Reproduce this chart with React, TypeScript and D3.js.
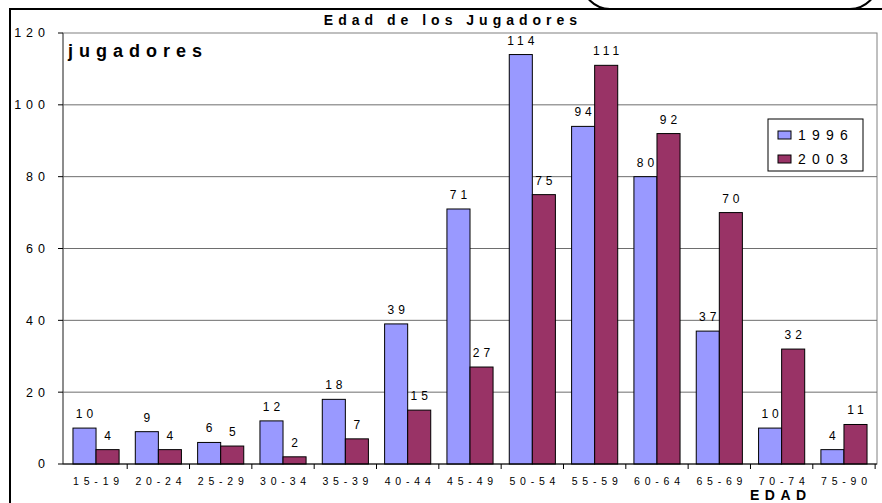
import React from "react";
import * as d3 from "d3";

const width = 882;
const height = 503;
const marginLeft = 63;
const marginRight = 5;
const marginTop = 33;
const axisY = 464;

const categories = ["15-19", "20-24", "25-29", "30-34", "35-39", "40-44", "45-49", "50-54", "55-59", "60-64", "65-69", "70-74", "75-90"];
const series = ["1996", "2003"];
const values1996 = [10, 9, 6, 12, 18, 39, 71, 114, 94, 80, 37, 10, 4];
const values2003 = [4, 4, 5, 2, 7, 15, 27, 75, 111, 92, 70, 32, 11];
const yTicks = [0, 20, 40, 60, 80, 100, 120];
const colors = ["#9999FF", "#993366"];

const font = "'Liberation Sans', Arial, sans-serif";

export default function App() {
  // 13 grupos con hueco entre grupos
  const x = d3
    .scaleBand<string>()
    .domain(categories)
    .range([marginLeft, width - marginRight])
    .paddingInner(0.26)
    .paddingOuter(0.16);
  const xInner = d3.scaleBand<string>().domain(series).range([0, x.bandwidth()]);
  const y = d3.scaleLinear().domain([0, 120]).range([axisY, marginTop]);
  const step = x.step();
  const tick0 = (x(categories[0]) ?? 0) - step * 0.13;

  const data = [values1996, values2003];

  return (
    <svg
      width={width}
      height={height}
      viewBox={`0 0 ${width} ${height}`}
      style={{ position: "absolute", left: 0, top: 0, background: "white" }}
      fontFamily={font}
    >
      <rect x={0} y={0} width={width} height={height} fill="white" />
      {/* marco exterior */}
      <rect x={10} y={9} width={920} height={540} fill="none" stroke="#000" strokeWidth={2} />
      {/* cuadro redondeado arriba a la derecha */}
      <rect x={582} y={-50} width={296} height={59} rx={28} ry={28} fill="white" stroke="#000" strokeWidth={2} />

      {/* titulo */}
      <text x={453} y={25} textAnchor="middle" fontSize={14} fontWeight="bold" letterSpacing={5}>
        Edad de los Jugadores
      </text>

      {/* area del grafico */}
      <rect
        x={marginLeft}
        y={marginTop}
        width={width - marginRight - marginLeft}
        height={axisY - marginTop}
        fill="white"
        stroke="#808080"
        strokeWidth={1}
      />

      {/* lineas de cuadricula */}
      {yTicks.slice(1, -1).map(t => (
        <line key={t} x1={marginLeft} x2={width - marginRight} y1={y(t)} y2={y(t)} stroke="#6e6e6e" strokeWidth={1} />
      ))}

      {/* eje Y */}
      <line x1={marginLeft} x2={marginLeft} y1={marginTop} y2={axisY} stroke="#5a5a5a" />
      {yTicks.map(t => (
        <g key={t}>
          <line x1={marginLeft - 5} x2={marginLeft} y1={y(t)} y2={y(t)} stroke="#000" />
          <text x={50} y={y(t)} dy="0.35em" textAnchor="end" fontSize={12.5} letterSpacing={5}>
            {t}
          </text>
        </g>
      ))}

      {/* barras */}
      {data.map((vals, si) =>
        vals.map((v, i) => {
          const bx = (x(categories[i]) ?? 0) + (xInner(series[si]) ?? 0);
          const bw = xInner.bandwidth();
          return (
            <g key={`${si}-${i}`}>
              <rect x={bx} y={y(v)} width={bw} height={axisY - y(v)} fill={colors[si]} stroke="#000" strokeWidth={1} />
              <text x={bx + bw / 2 + 2} y={y(v) - 10} textAnchor="middle" fontSize={12} letterSpacing={4}>
                {v}
              </text>
            </g>
          );
        })
      )}

      {/* eje X */}
      <line x1={marginLeft} x2={width - marginRight} y1={axisY} y2={axisY} stroke="#000" />
      {categories.map((c, i) => (
        <line
          key={c}
          x1={tick0 + step * (i + 1)}
          x2={tick0 + step * (i + 1)}
          y1={axisY}
          y2={axisY + 5}
          stroke="#000"
        />
      ))}
      {categories.map(c => (
        <text
          key={c}
          x={(x(c) ?? 0) + x.bandwidth() / 2 + 2.5}
          y={485}
          textAnchor="middle"
          fontSize={10.5}
          letterSpacing={4.8}
        >
          {c}
        </text>
      ))}

      {/* titulos de ejes */}
      <text x={68} y={57} fontSize={18} fontWeight="bold" letterSpacing={6}>
        jugadores
      </text>
      <text x={750} y={500} fontSize={14} fontWeight="bold" letterSpacing={5.5}>
        EDAD
      </text>

      {/* leyenda */}
      <rect x={768} y={119} width={95} height={52} fill="white" stroke="#000" strokeWidth={1} />
      {series.map((s, i) => (
        <g key={s} transform={`translate(778, ${135 + i * 24})`}>
          <rect x={0} y={-4} width={13} height={8} fill={colors[i]} stroke="#000" strokeWidth={1} />
          <text x={20} y={0} dy="0.36em" fontSize={14} letterSpacing={6.2}>
            {s}
          </text>
        </g>
      ))}
    </svg>
  );
}
